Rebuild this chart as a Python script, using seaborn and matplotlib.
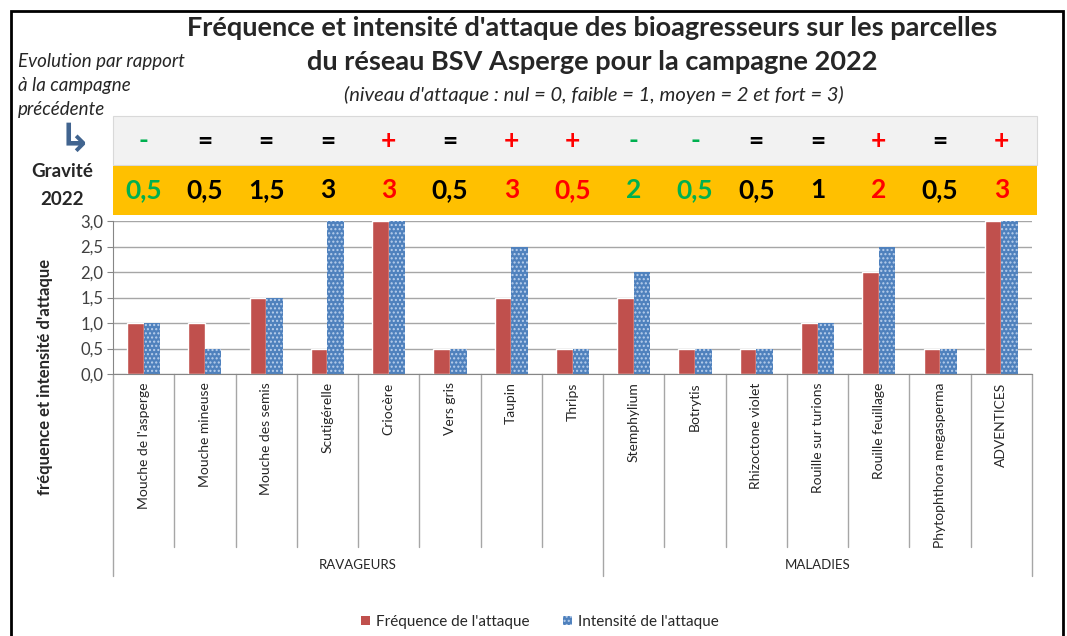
import matplotlib
matplotlib.use("Agg")
import matplotlib.pyplot as plt
import matplotlib.transforms as mtransforms
from matplotlib.patches import Rectangle, Patch
import numpy as np
import pandas as pd
import seaborn as sns

# data
categories = ["Mouche de l'asperge", "Mouche mineuse", "Mouche des semis", "Scutigérelle",
              "Criocère", "Vers gris", "Taupin", "Thrips", "Stemphylium", "Botrytis",
              "Rhizoctone violet", "Rouille sur turions", "Rouille feuillage",
              "Phytophthora megasperma", "ADVENTICES"]
frequence = [1, 1, 1.5, 0.5, 3, 0.5, 1.5, 0.5, 1.5, 0.5, 0.5, 1, 2, 0.5, 3]
intensite = [1, 0.5, 1.5, 3, 3, 0.5, 2.5, 0.5, 2, 0.5, 0.5, 1, 2.5, 0.5, 3]
evolution = ["-", "=", "=", "=", "+", "=", "+", "+", "-", "-", "=", "=", "+", "=", "+"]
gravite = ["0,5", "0,5", "1,5", "3", "3", "0,5", "3", "0,5", "2", "0,5", "0,5", "1", "2", "0,5", "3"]
group_names = ["RAVAGEURS", "MALADIES"]
group_sizes = [8, 7]
series_names = ["Fréquence de l'attaque", "Intensité de l'attaque"]

W, H = 1067, 636
sns.set_style("white")
plt.rcParams['font.family'] = ['Lato', 'DejaVu Sans']

fig = plt.figure(figsize=(W / 100, H / 100), dpi=100)

def fx(px):
    return px / W

def fy(py):
    return 1 - py / H

# plot area (pixels of the reference)
left, right, top, bottom = 113, 1032, 221, 374
ax = fig.add_axes([fx(left), fy(bottom), fx(right - left), (bottom - top) / H])

df = pd.DataFrame({
    "categorie": categories * 2,
    "valeur": frequence + intensite,
    "serie": [series_names[0]] * len(categories) + [series_names[1]] * len(categories),
})
sns.barplot(data=df, x="categorie", y="valeur", hue="serie", order=categories,
            hue_order=series_names, palette=["#C0504D", "#4F81BD"],
            width=0.54, gap=0, ax=ax, legend=False, saturation=1)

plt.rcParams['hatch.linewidth'] = 1.0
for bar in ax.containers[1]:
    bar.set_facecolor("#4F81BD")
    bar.set_edgecolor("#B9CFEC")
    bar.set_hatch("....")
    bar.set_linewidth(0)

ax.set_xlim(-0.5, len(categories) - 0.5)
ax.set_ylim(0, 3.0)
yt = np.arange(0, 3.01, 0.5)
ax.set_yticks(yt)
ax.set_yticklabels([f"{t:.1f}".replace(".", ",") for t in yt], fontsize=12, color="#404040")
ax.yaxis.grid(True, color="#A6A6A6", linewidth=1)
ax.set_axisbelow(True)
ax.tick_params(axis="y", length=4, color="#868686", pad=3, left=True)
ax.tick_params(axis="x", length=0, pad=6)
ax.set_xticks(range(len(categories)))
ax.set_xticklabels(categories, rotation=90, fontsize=10, va="top", color="#262626")
ax.set_xlabel("")
ax.set_ylabel("")
for s in ["top", "right"]:
    ax.spines[s].set_visible(False)
for s in ["left", "bottom"]:
    ax.spines[s].set_color("#868686")

# category separators and group labels below the axis
bt = mtransforms.blended_transform_factory(ax.transData, ax.transAxes)
h_ax = bottom - top
y_inner = -(547 - bottom) / h_ax
y_group = -(576 - bottom) / h_ax
y_glab = -(565 - bottom) / h_ax
bounds = np.cumsum([0] + group_sizes)
for i in range(len(categories) + 1):
    y_end = y_group if i in bounds else y_inner
    ax.plot([i - 0.5, i - 0.5], [0, y_end], transform=bt, color="#A6A6A6",
            linewidth=1, clip_on=False)
for name, a, b in zip(group_names, bounds[:-1], bounds[1:]):
    ax.text((a + b) / 2 - 0.5, y_glab, name, transform=bt, ha="center", va="center",
            fontsize=9.5, color="#262626")

# bands with evolution and gravity
fig.patches.append(Rectangle((fx(113), fy(165)), fx(1037 - 113), (165 - 116) / H,
                             transform=fig.transFigure, facecolor="#F2F2F2",
                             edgecolor="#D9D9D9", linewidth=0.8))
fig.patches.append(Rectangle((fx(113), fy(215)), fx(1037 - 113), (215 - 166) / H,
                             transform=fig.transFigure, facecolor="#FFC000",
                             edgecolor="none"))
sign_colors = {"-": "#00B050", "=": "black", "+": "#FF0000"}
bf = mtransforms.blended_transform_factory(ax.transData, fig.transFigure)
for i, (ev, gr) in enumerate(zip(evolution, gravite)):
    fig.text(i, fy(141), ev, transform=bf, ha="center", va="center",
             fontsize=19, fontweight="bold", color=sign_colors[ev])
    fig.text(i, fy(190), gr, transform=bf, ha="center", va="center",
             fontsize=19, fontweight="bold", color=sign_colors[ev])

# titles
fig.text(fx(592), fy(28), "Fréquence et intensité d'attaque des bioagresseurs sur les parcelles",
         ha="center", va="center", fontsize=19.5, fontweight="bold")
fig.text(fx(592), fy(62), "du réseau BSV Asperge pour la campagne 2022",
         ha="center", va="center", fontsize=19.5, fontweight="bold")
fig.text(fx(594), fy(95), "(niveau d'attaque : nul = 0, faible = 1, moyen = 2 et fort = 3)",
         ha="center", va="center", fontsize=14.5, style="italic")

# left annotations
for txt, py in zip(["Evolution par rapport", "à la campagne", "précédente"], [62, 86, 110]):
    fig.text(fx(18), fy(py), txt, ha="left", va="center", fontsize=13.5, style="italic")
fig.text(fx(75), fy(140), "↳", ha="center", va="center", fontsize=28, fontweight="bold",
         color="#41648F", family="DejaVu Sans")
fig.text(fx(62), fy(172), "Gravité", ha="center", va="center", fontsize=13.5, fontweight="bold")
fig.text(fx(62), fy(200), "2022", ha="center", va="center", fontsize=13.5, fontweight="bold")
fig.text(fx(45), fy(377), "fréquence et intensité d'attaque", ha="center", va="center",
         rotation=90, fontsize=12, fontweight="bold")

# legend
handles = [Patch(facecolor="#C0504D", edgecolor="none"),
           Patch(facecolor="#4F81BD", edgecolor="#B9CFEC", hatch="....", linewidth=0)]
fig.legend(handles, series_names, loc="center", bbox_to_anchor=(fx(540), fy(622)),
           ncol=2, frameon=False, fontsize=11, handlelength=0.6, handleheight=0.6,
           handletextpad=0.4, columnspacing=2.2)

# outer frame
fig.patches.append(Rectangle((fx(11), -0.05), fx(1063 - 11), fy(11) + 0.05,
                             transform=fig.transFigure, fill=False,
                             edgecolor="black", linewidth=2))

fig.savefig("out.png", dpi=100)
